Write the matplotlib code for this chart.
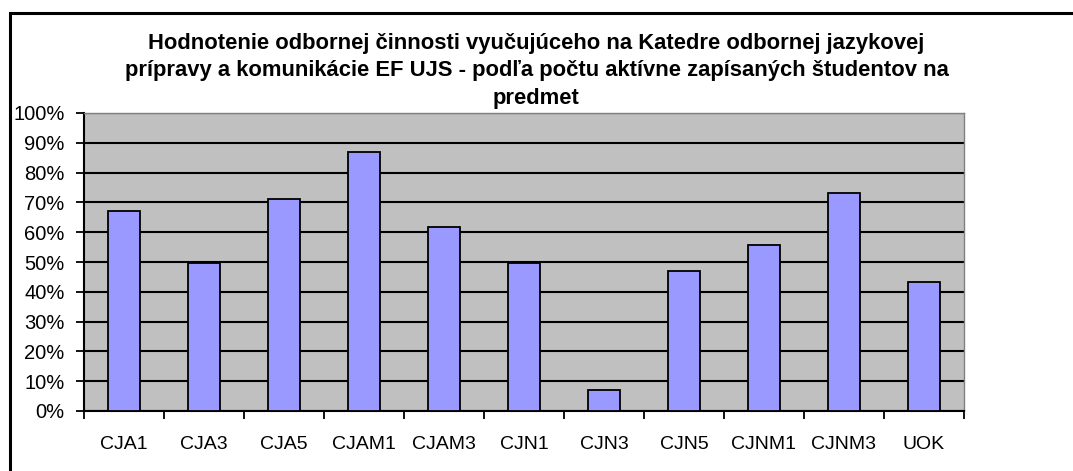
import numpy as np
import matplotlib.pyplot as plt
from matplotlib.patches import Rectangle
from matplotlib.ticker import FuncFormatter, FixedLocator

plt.rcParams['font.family'] = ['Liberation Sans', 'DejaVu Sans']

# data
categories = ['CJA1', 'CJA3', 'CJA5', 'CJAM1', 'CJAM3', 'CJN1',
              'CJN3', 'CJN5', 'CJNM1', 'CJNM3', 'UOK']
values = [67.2, 49.8, 71.0, 86.8, 61.6, 49.8, 7.0, 47.0, 55.7, 73.3, 43.2]
title = ('Hodnotenie odbornej činnosti vyučujúceho na Katedre odbornej jazykovej\n'
         'prípravy a komunikácie EF UJS - podľa počtu aktívne zapísaných študentov na\n'
         'predmet')

W, H = 1073, 471
fig = plt.figure(figsize=(W / 100, H / 100), dpi=100)

# outer chart frame (cut off on the right and bottom)
fig.patches.append(Rectangle((9.5 / W, -0.1), 1.2, (H - 13) / H + 0.1,
                             transform=fig.transFigure, fill=False,
                             edgecolor='black', linewidth=2.2))

ax = fig.add_axes([84 / W, 1 - 411 / H, (964 - 84) / W, (411 - 113) / H])
ax.set_facecolor('#C0C0C0')

x = np.arange(len(categories))
ax.set_axisbelow(True)
ax.yaxis.grid(True, color='black', linewidth=1.5)
ax.bar(x, values, width=0.4, color='#9999FF', edgecolor='black',
       linewidth=1.3, zorder=3)

ax.set_xlim(-0.5, len(categories) - 0.5)
ax.set_ylim(0, 100)
ax.set_yticks(np.arange(0, 101, 10))
ax.yaxis.set_major_formatter(FuncFormatter(lambda v, p: f'{v:.0f}%'))

# category labels in the middle, ticks at the boundaries
ax.xaxis.set_major_locator(FixedLocator(np.arange(-0.5, len(categories), 1)))
ax.xaxis.set_major_formatter(FuncFormatter(lambda v, p: ''))
ax.xaxis.set_minor_locator(FixedLocator(x))
ax.set_xticklabels(categories, minor=True)
ax.tick_params(axis='x', which='minor', length=0, pad=18, labelsize=14)
ax.tick_params(axis='x', which='major', length=6, width=1.3, direction='out')
ax.tick_params(axis='y', length=6, width=1.3, pad=8, labelsize=14.5)

for side in ['top', 'right']:
    ax.spines[side].set_color('#808080')
    ax.spines[side].set_linewidth(1.0)
for side in ['left', 'bottom']:
    ax.spines[side].set_linewidth(1.5)

fig.text(0.5, 1 - 33 / H, title, ha='center', va='top', fontsize=15.8,
         fontweight='bold', linespacing=1.4)

fig.savefig('out.png', dpi=100)
